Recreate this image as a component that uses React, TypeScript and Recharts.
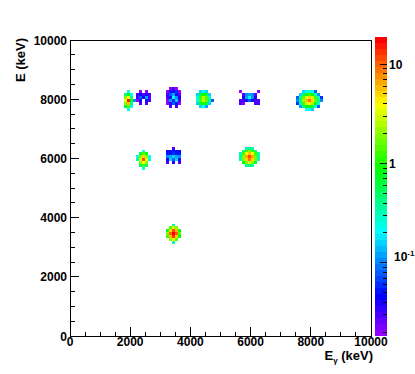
import React from 'react';
import { ScatterChart, Scatter, XAxis, YAxis, ReferenceArea } from 'recharts';

const BIN = 100;
const Z_MIN = 0.0184;
const Z_MAX = 18.7;
const N_COLORS = 50;

const xTicks = [0, 500, 1000, 1500, 2000, 2500, 3000, 3500, 4000, 4500, 5000, 5500, 6000, 6500, 7000, 7500, 8000, 8500, 9000, 9500, 10000];
const yTicks = [0, 500, 1000, 1500, 2000, 2500, 3000, 3500, 4000, 4500, 5000, 5500, 6000, 6500, 7000, 7500, 8000, 8500, 9000, 9500, 10000];
const zTicks = [0.02, 0.03, 0.04, 0.05, 0.06, 0.07, 0.08, 0.09, 0.1, 0.2, 0.3, 0.4, 0.5, 0.6, 0.7, 0.8, 0.9, 1, 2, 3, 4, 5, 6, 7, 8, 9, 10];
const zMajor = [0.1, 1, 10];

// Each blob: first column low edge (E_gamma, keV), top row low edge (E, keV), counts rows top -> bottom
const blob1950_8000 = { x0: 1800, yTop: 8200, counts: [
  [0, 0.25, 0, 0],
  [0.4, 1.0, 0.2, 0],
  [2, 4, 0.4, 0],
  [3.5, 15, 0.7, 0.1],
  [2, 6, 0.4, 0],
  [0.6, 1.5, 0.2, 0],
  [0, 0.25, 0, 0],
] };
const blob2400_8000 = { x0: 2200, yTop: 8200, counts: [
  [0, 0.02, 0, 0.02, 0],
  [0.03, 0.05, 0.03, 0.04, 0.03],
  [0.03, 0.08, 0.04, 0.12, 0.03],
  [0.02, 0.04, 0, 0.05, 0.03],
  [0, 0.03, 0, 0.03, 0],
] };
const blob3450_8000 = { x0: 3200, yTop: 8300, counts: [
  [0, 0.02, 0.03, 0.02, 0],
  [0.02, 0.05, 0.04, 0.06, 0.02],
  [0.03, 0.08, 0.12, 0.05, 0.03],
  [0.03, 0.05, 0.2, 0.1, 0.04],
  [0.02, 0.12, 0.06, 0.15, 0.03],
  [0.02, 0.04, 0.08, 0.05, 0.02],
  [0, 0.03, 0, 0.03, 0],
] };
const blob4450_8000 = { x0: 4200, yTop: 8200, counts: [
  [0, 0.15, 0.2, 0.15, 0, 0],
  [0.15, 0.6, 1.0, 0.6, 0.15, 0],
  [0.25, 1.2, 2.5, 1.4, 0.3, 0],
  [0.25, 1.4, 3, 1.5, 0.4, 0.08],
  [0.15, 0.7, 1.0, 0.6, 0.15, 0],
  [0, 0.15, 0.2, 0.12, 0, 0],
] };
const blob5950_8000 = { x0: 5600, yTop: 8200, counts: [
  [0.02, 0, 0, 0, 0, 0, 0.02],
  [0, 0.03, 0.1, 0.12, 0.1, 0.03, 0],
  [0, 0.04, 0.12, 0.25, 0.1, 0.04, 0],
  [0.03, 0.03, 0.05, 0.08, 0.05, 0.03, 0.03],
  [0.03, 0.02, 0, 0, 0, 0.03, 0.03],
] };
const blob7950_8000 = { x0: 7500, yTop: 8200, counts: [
  [0, 0, 0.15, 0.25, 0.25, 0.2, 0.08, 0, 0],
  [0, 0.15, 0.5, 1.0, 1.3, 0.8, 0.3, 0.1, 0],
  [0.08, 0.4, 1.5, 3.5, 5, 3, 1.2, 0.3, 0.06],
  [0.1, 0.5, 2.2, 6, 9, 5, 1.6, 0.4, 0.1],
  [0.06, 0.3, 1.2, 3, 4.5, 2.2, 0.9, 0.25, 0],
  [0, 0.12, 0.4, 0.8, 1.0, 0.6, 0.25, 0.08, 0],
  [0, 0, 0, 0.2, 0.25, 0.15, 0, 0, 0],
] };
const blob2450_6000 = { x0: 2200, yTop: 6200, counts: [
  [0, 0, 0.25, 0, 0],
  [0, 0.6, 1.5, 0.7, 0],
  [0.25, 2, 5, 2, 0.2],
  [0.3, 3.5, 12, 3.5, 0.25],
  [0, 1.8, 4, 1.8, 0],
  [0, 0.5, 1.5, 0.5, 0],
  [0, 0, 0.25, 0, 0],
] };
const blob3450_6000 = { x0: 3200, yTop: 6300, counts: [
  [0, 0, 0.03, 0, 0],
  [0.04, 0.05, 0.05, 0.05, 0.04],
  [0.05, 0.05, 0.06, 0.05, 0.05],
  [0.1, 0.12, 0.15, 0.12, 0.1],
  [0.04, 0.15, 0.08, 0.15, 0.04],
  [0.03, 0, 0.04, 0, 0.03],
] };
const blob5950_6000 = { x0: 5600, yTop: 6300, counts: [
  [0, 0, 0.3, 0.4, 0.3, 0, 0],
  [0, 0.5, 1.2, 2, 1.2, 0.5, 0],
  [0.3, 1.2, 4, 6, 4, 1.2, 0.3],
  [0.4, 2, 7, 11, 7, 2, 0.35],
  [0.35, 1.8, 5, 9, 5, 1.8, 0.3],
  [0, 0.8, 2, 3.5, 2, 0.7, 0],
  [0, 0, 0.35, 0.45, 0.3, 0, 0],
] };
const blob3450_3400 = { x0: 3200, yTop: 3700, counts: [
  [0, 0, 0.3, 0, 0],
  [0, 1.5, 3, 1.8, 0],
  [1, 5, 12, 6, 1],
  [2, 10, 18, 10, 1.5],
  [1.2, 6, 14, 5, 1],
  [0, 2, 4, 1.5, 0],
  [0, 0, 0.3, 0, 0],
] };

const blobs = [blob1950_8000, blob2400_8000, blob3450_8000, blob4450_8000, blob5950_8000, blob7950_8000,
  blob2450_6000, blob3450_6000, blob5950_6000, blob3450_3400];

const cells = blobs.flatMap((b) =>
  b.counts.flatMap((row, r) =>
    row.map((v, c) => ({ x: b.x0 + c * BIN, y: b.yTop - r * BIN, v })).filter((d) => d.v > 0)
  )
);

const hueColor = (i: number) => `hsl(${280 - (i + 1) * (280 / N_COLORS)}, 100%, 50%)`;
const LMIN = Math.log10(Z_MIN);
const LSPAN = Math.log10(Z_MAX) - LMIN;
const colorFor = (v: number) => {
  let i = Math.floor(0.01 + ((Math.log10(v) - LMIN) / LSPAN) * N_COLORS);
  if (i < 0) i = 0;
  if (i > N_COLORS - 1) i = N_COLORS - 1;
  return hueColor(i);
};
const bands = Array.from({ length: N_COLORS }, (_, i) => ({
  lo: Math.pow(10, LMIN + (i * LSPAN) / N_COLORS),
  hi: Math.pow(10, LMIN + ((i + 1) * LSPAN) / N_COLORS),
  color: hueColor(i),
}));

const FONT = '"Liberation Sans", Arial, Helvetica, sans-serif';

const XTick = (props: any) => {
  const { x, y, payload } = props;
  const v = payload.value;
  const major = v % 2000 === 0;
  return (
    <g>
      <line x1={x} x2={x} y1={y} y2={y - (major ? 9 : 4.5)} stroke="#000" />
      {major && (
        <text x={x} y={y + 10} textAnchor="middle" fontFamily={FONT} fontWeight="bold" fontSize={12} fill="#000">
          {v}
        </text>
      )}
    </g>
  );
};

const YTick = (props: any) => {
  const { x, y, payload } = props;
  const v = payload.value;
  const major = v % 2000 === 0;
  return (
    <g>
      <line x1={x} x2={x + (major ? 9 : 4.5)} y1={y} y2={y} stroke="#000" />
      {major && (
        <text x={x - 3} y={y + 4.5} textAnchor="end" fontFamily={FONT} fontWeight="bold" fontSize={12} fill="#000">
          {v}
        </text>
      )}
    </g>
  );
};

const ZTick = (props: any) => {
  const { x, y, payload } = props;
  const v = payload.value;
  const major = zMajor.includes(v);
  let label: any = null;
  if (v === 10 || v === 1) {
    label = (
      <text x={x + 2} y={y + 5} fontFamily={FONT} fontWeight="bold" fontSize={12} fill="#000">
        {String(v)}
      </text>
    );
  } else if (v === 0.1) {
    label = (
      <text x={x + 7} y={y - 2} fontFamily={FONT} fontWeight="bold" fontSize={12} fill="#000">
        10<tspan dy={-5} fontSize={8}>-1</tspan>
      </text>
    );
  }
  return (
    <g>
      <line x1={x - (major ? 7 : 4)} x2={x} y1={y} y2={y} stroke="#000" />
      {label}
    </g>
  );
};

const XTitle = (props: any) => {
  const vb = props.viewBox || { x: 70, y: 336, width: 301, height: 30 };
  return (
    <text x={vb.x + vb.width + 2} y={vb.y + 24} textAnchor="end" fontFamily={FONT} fontWeight="bold" fontSize={13} fill="#000">
      E<tspan dy={3} fontSize={8}>γ</tspan><tspan dy={-3}> (keV)</tspan>
    </text>
  );
};

const YTitle = (props: any) => {
  const vb = props.viewBox || { x: 10, y: 40, width: 60, height: 296 };
  const tx = vb.x + vb.width - 45;
  const ty = vb.y - 2;
  return (
    <text x={tx} y={ty} transform={`rotate(-90 ${tx} ${ty})`} textAnchor="end" fontFamily={FONT} fontWeight="bold" fontSize={13} fill="#000">
      E (keV)
    </text>
  );
};

const bandMarks = bands.map((b) => ({ x: 0.5, z: Math.sqrt(b.lo * b.hi) }));

export default function App() {
  return (
    <div style={{ position: 'absolute', left: 0, top: 0, width: 415, height: 374, background: '#fff', shapeRendering: 'crispEdges' as any }}>
      <div style={{ position: 'absolute', left: 0, top: 0 }}>
        <ScatterChart width={415} height={374} margin={{ top: 40, right: 44, bottom: 8, left: 10 }}>
          <XAxis
            type="number"
            dataKey="x"
            domain={[0, 10000]}
            ticks={xTicks}
            interval={0}
            height={30}
            tickSize={0}
            tickMargin={0}
            tickLine={false}
            axisLine={{ stroke: '#000' }}
            tick={<XTick />}
            allowDataOverflow
            label={<XTitle />}
          />
          <YAxis
            type="number"
            dataKey="y"
            domain={[0, 10000]}
            ticks={yTicks}
            interval={0}
            width={60}
            tickSize={0}
            tickMargin={0}
            tickLine={false}
            axisLine={{ stroke: '#000' }}
            tick={<YTick />}
            allowDataOverflow
            label={<YTitle />}
          />
          <Scatter data={cells} isAnimationActive={false} shape={() => <g />} />
          {cells.map((d, i) => (
            <ReferenceArea
              key={i}
              x1={d.x}
              x2={d.x + BIN}
              y1={d.y}
              y2={d.y + BIN}
              fill={colorFor(d.v)}
              fillOpacity={1}
              stroke="none"
              ifOverflow="visible"
            />
          ))}
          <ReferenceArea x1={0} x2={10000} y1={0} y2={10000} fill="none" fillOpacity={0} stroke="#000" strokeWidth={1} ifOverflow="visible" />
        </ScatterChart>
      </div>
      <div style={{ position: 'absolute', left: 0, top: 0 }}>
        <ScatterChart width={415} height={374} margin={{ top: 37, right: 8, bottom: 38, left: 375 }}>
          <XAxis type="number" dataKey="x" domain={[0, 1]} hide allowDataOverflow />
          <YAxis
            type="number"
            dataKey="z"
            orientation="right"
            scale="log"
            domain={[Z_MIN, Z_MAX]}
            ticks={zTicks}
            interval={0}
            width={20}
            tickSize={0}
            tickMargin={0}
            tickLine={false}
            axisLine={false}
            tick={<ZTick />}
            allowDataOverflow
          />
          <Scatter data={bandMarks} isAnimationActive={false} shape={() => <g />} />
          {bands.map((b, i) => (
            <ReferenceArea key={i} x1={0} x2={1} y1={b.lo} y2={b.hi} fill={b.color} fillOpacity={1} stroke="none" ifOverflow="visible" />
          ))}
        </ScatterChart>
      </div>
    </div>
  );
}
